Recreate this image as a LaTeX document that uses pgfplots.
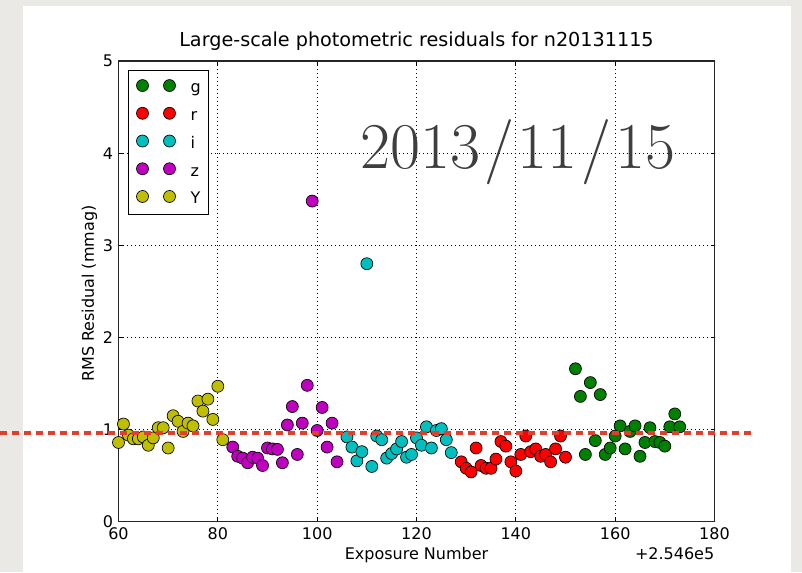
\documentclass[border=0pt]{standalone}
\usepackage{fontspec}
\setsansfont{DejaVu Sans}
\usepackage{pgfplots}
\pgfplotsset{compat=1.18}

\definecolor{bandg}{rgb}{0,0.5,0}
\definecolor{bandr}{rgb}{1,0,0}
\definecolor{bandi}{rgb}{0,0.75,0.75}
\definecolor{bandz}{rgb}{0.75,0,0.75}
\definecolor{bandY}{rgb}{0.75,0.75,0}
\definecolor{slidebg}{RGB}{235,233,230}
\definecolor{refline}{RGB}{226,62,44}
\definecolor{dategray}{RGB}{62,62,62}

\begin{document}
\begin{tikzpicture}[x=0.75pt,y=0.75pt]
\useasboundingbox (0,0) rectangle (802,572);
\fill[slidebg] (0,0) rectangle (802,572);
\fill[white] (23,0) rectangle (791,566);

\begin{axis}[
  at={(88.875pt,37.725pt)}, anchor=south west,
  scale only axis, width=447pt, height=345.5pt,
  xmin=60, xmax=180, ymin=0, ymax=5,
  xtick={60,80,...,180}, ytick={0,1,...,5},
  font=\sffamily\fontsize{12pt}{14pt}\selectfont,
  /pgf/number format/assume math mode=true,
  tick align=inside, major tick length=3pt,
  tick style={black, line width=0.6pt},
  axis line style={line width=0.9pt, black!85},
  grid=major,
  major grid style={black, line width=0.6pt, dash pattern=on 0.7pt off 2.3pt},
  xticklabel style={anchor=base, yshift=-13.7pt},
  yticklabel style={anchor=east, xshift=-0.5pt},
  title={Large-scale photometric residuals for n20131115},
  title style={font=\sffamily\fontsize{14.4pt}{17pt}\selectfont,
    at={(axis description cs:0.5,1)}, anchor=base, yshift=5.2pt},
  xlabel={Exposure Number},
  xlabel style={at={(axis description cs:0.5,-0.083)}, anchor=base},
  ylabel={RMS Residual (mmag)},
  ylabel style={at={(axis description cs:-0.0487,0.495)}, anchor=center},
  legend image code/.code={%
    \draw[#1, only marks] plot coordinates {(0pt,1.2pt) (20.25pt,1.2pt)};},
  legend cell align=left,
  legend style={at={(axis description cs:0.0164,0.9805)}, anchor=north west,
    draw=black, line width=0.75pt, fill=white,
    inner xsep=5.8pt, inner ysep=5pt, column sep=11.25pt, row sep=5.85pt,
    font=\sffamily\fontsize{12pt}{14pt}\selectfont,
    nodes={inner sep=0pt, text height=11.75pt, text depth=3.2pt}},
  every axis plot/.append style={only marks, mark=*, mark size=4.5pt, line width=0.5pt},
]
% g band exposures
\addplot[mark options={draw=black, fill=bandg}] coordinates {
 (152,1.66) (153,1.36) (154,0.73) (155,1.51) (156,0.88) (157,1.38)
 (158,0.73) (159,0.80) (160,0.93) (161,1.04) (162,0.79) (163,0.98)
 (164,1.04) (165,0.71) (166,0.86) (167,1.02) (168,0.87) (169,0.86)
 (170,0.82) (171,1.03) (172,1.17) (173,1.03)};
\addlegendentry{g}
% r band exposures
\addplot[mark options={draw=black, fill=bandr}] coordinates {
 (129,0.65) (130,0.58) (131,0.54) (132,0.80) (133,0.61) (134,0.58)
 (135,0.58) (136,0.68) (137,0.87) (138,0.82) (139,0.65) (140,0.55)
 (141,0.73) (142,0.93) (143,0.76) (144,0.79) (145,0.71) (146,0.73)
 (147,0.65) (148,0.79) (149,0.93) (150,0.70)};
\addlegendentry{r}
% i band exposures
\addplot[mark options={draw=black, fill=bandi}] coordinates {
 (106,0.92) (107,0.81) (108,0.66) (109,0.76) (110,2.80) (111,0.60)
 (112,0.93) (113,0.89) (114,0.69) (115,0.74) (116,0.79) (117,0.87)
 (118,0.70) (119,0.73) (120,0.91) (121,0.83) (122,1.03) (123,0.80)
 (124,0.99) (125,1.01) (126,0.89) (127,0.75)};
\addlegendentry{i}
% z band exposures
\addplot[mark options={draw=black, fill=bandz}] coordinates {
 (83,0.81) (84,0.71) (85,0.69) (86,0.64) (87,0.70) (88,0.69)
 (89,0.61) (90,0.80) (91,0.79) (92,0.785) (93,0.64) (94,1.05)
 (95,1.25) (96,0.73) (97,1.07) (98,1.48) (99,3.48) (100,0.99)
 (101,1.24) (102,0.81) (103,1.07) (104,0.65)};
\addlegendentry{z}
% Y band exposures
\addplot[mark options={draw=black, fill=bandY}] coordinates {
 (60,0.86) (61,1.06) (62,0.94) (63,0.90) (64,0.90) (65,0.92)
 (66,0.83) (67,0.91) (68,1.02) (69,1.02) (70,0.80) (71,1.15)
 (72,1.09) (73,0.98) (74,1.07) (75,1.04) (76,1.31) (77,1.20)
 (78,1.33) (79,1.11) (80,1.47) (81,0.89)};
\addlegendentry{Y}

% ends of the reference level line, running past the frame
\coordinate (refL) at (axis cs:36.1,0.963);
\coordinate (refR) at (axis cs:187.3,0.963);
\coordinate (offs) at (axis description cs:1,-0.081);
\end{axis}

\node[anchor=base east, inner sep=0pt, font=\sffamily\fontsize{12pt}{14pt}\selectfont] at (offs) {+2.546e5};

\draw[refline, line width=2.4pt, dash pattern=on 5.5pt off 3.5pt] (refL) -- (refR);

\node[anchor=base, inner sep=0pt, text=dategray, font=\rmfamily\fontsize{49pt}{50pt}\selectfont]
  at (518,403) {2013\kern3pt/\kern3pt11\kern3pt/\kern3pt15};
\end{tikzpicture}
\end{document}
